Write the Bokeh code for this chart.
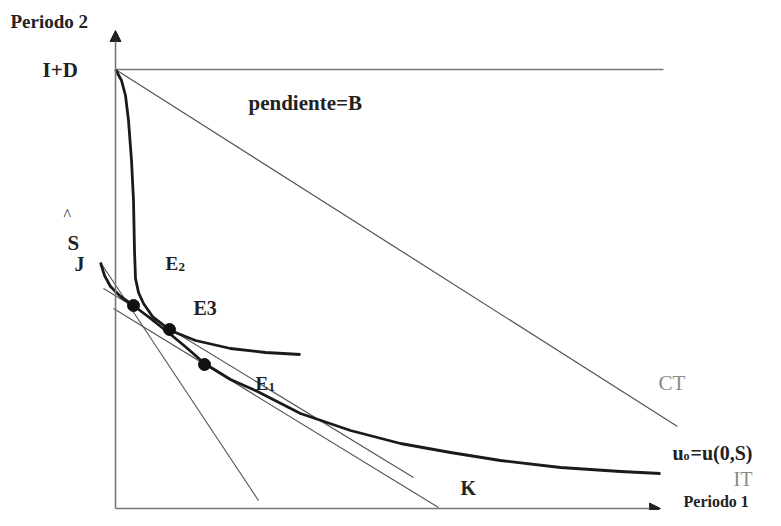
from bokeh.plotting import figure
from bokeh.models import Range1d, Arrow, NormalHead
from bokeh.core.properties import value
from bokeh.embed import file_html
from bokeh.resources import INLINE

# ---- diagram data (Periodo 1 on x, Periodo 2 on y) ----
ID_level = 439          # I+D on vertical axis
x_axis_end = 545
y_axis_end = 478

# curve starting at I+D (E2 curve)
c2_x = [0, 6, 10, 13, 16, 18, 19, 20, 23, 28, 37, 55, 80, 115, 150, 185]
c2_y = [439, 428, 413, 388, 348, 308, 258, 230, 216, 205, 192, 178, 168, 160, 156, 154]

# indifference curve u0 = u(0,S) starting at J
cu_x = [-15, -11, -5, 5, 18, 35, 54, 72, 89, 115, 142, 185, 235, 285, 335, 385, 445, 505, 545]
cu_y = [246, 233, 222, 212, 203, 190, 175, 160, 145, 129, 117, 95, 78, 65, 56, 48, 41, 37, 35]

# straight lines: (x0, y0, x1, y1)
ct_line = (0, 439, 562, 82)
top_line = (0, 439, 548, 439)
l_steep = (-13, 243, 143, 8)
l_mid = (-12, 220, 298, 31)
l_low = (-2, 200, 323, 1)

# equilibrium points
dot_x = [18, 54, 89]
dot_y = [203, 179, 144]

p = figure(width=765, height=510, output_backend="svg", toolbar_location=None,
           x_range=Range1d(-115, 650), y_range=Range1d(-2, 508),
           min_border=0)
p.axis.visible = False
p.grid.visible = False
p.outline_line_color = None
p.background_fill_color = "white"

# axes with arrows
p.add_layout(Arrow(end=NormalHead(size=11, fill_color="#222222", line_color="#222222"),
                   x_start=0, y_start=0, x_end=0, y_end=y_axis_end,
                   line_color="#777777", line_width=1.6))
p.add_layout(Arrow(end=NormalHead(size=11, fill_color="#222222", line_color="#222222"),
                   x_start=0, y_start=0, x_end=x_axis_end, y_end=0,
                   line_color="#777777", line_width=1.6))

thin = "#555555"
for (x0, y0, x1, y1), w, c in [(ct_line, 1.2, "#555555"), (top_line, 1.6, "#777777"),
                                (l_steep, 1.1, thin), (l_mid, 1.1, thin), (l_low, 1.1, thin)]:
    p.line([x0, x1], [y0, y1], line_color=c, line_width=w)

p.line(c2_x, c2_y, line_color="#1a1a1a", line_width=2.8, line_join="round")
p.line(cu_x, cu_y, line_color="#1a1a1a", line_width=2.8, line_join="round")
p.scatter(dot_x, dot_y, size=12, fill_color="#111111", line_color="#111111")

serif = value("Liberation Serif")

def label(x, y, t, size, color="#222222", style="bold", align="left"):
    p.text([x], [y], text=[t], text_font=serif, text_font_size=f"{size}px",
           text_font_style=style, text_color=color, text_align=align,
           text_baseline="middle")

label(-105, 487, "Periodo 2", 19)
label(-73, 439, "I+D", 21)
label(133, 406, "pendiente=B", 21)
label(-52, 294, "^", 16, style="normal")
label(-48, 266, "S", 21)
label(-41, 245, "J", 20)
label(50, 245, "E", 19)
label(63, 242, "2", 13)
label(78, 201, "E3", 20)
label(140, 125, "E", 19)
label(153, 122, "1", 13)
label(543, 126, "CT", 21, color="#8a8a8a", style="normal")
label(557, 56, "u", 20)
label(568, 53, "o", 12)
label(575, 56, "=u(0,S)", 20)
label(618, 30, "IT", 20, color="#8a8a8a", style="normal")
label(568, 7, "Periodo 1", 16)
label(345, 21, "K", 20)

open("out.html", "w").write(file_html(p, INLINE))
